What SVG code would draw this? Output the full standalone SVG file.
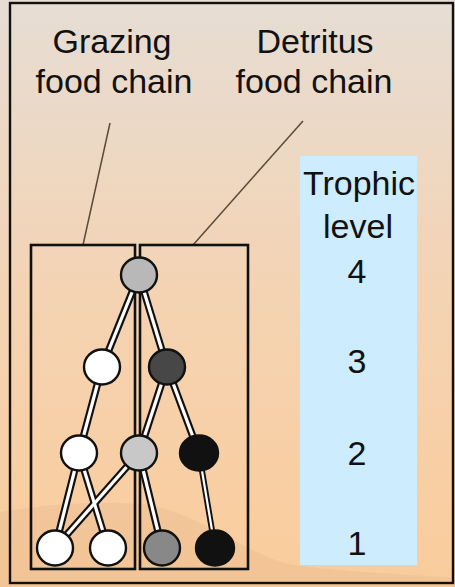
<svg xmlns="http://www.w3.org/2000/svg" width="455" height="587" viewBox="0 0 455 587">
  <defs>
    <linearGradient id="bg" x1="0" y1="0" x2="0" y2="1">
      <stop offset="0" stop-color="#e6ddd4"/>
      <stop offset="0.5" stop-color="#f4d3b3"/>
      <stop offset="1" stop-color="#facc9b"/>
    </linearGradient>
    <style>
      text { font-family: "Liberation Sans", Arial, sans-serif; font-size: 34px; fill: #111; text-anchor: middle; }
      .box { fill: none; stroke: #111; stroke-width: 2.6; }
      .lead { stroke: #5a4a38; stroke-width: 1.5; fill: none; }
      .node { stroke: #111; stroke-width: 2.4; }
      .eo { stroke: #111; stroke-width: 7.5; stroke-linecap: butt; }
      .ei { stroke: #fff; stroke-width: 3.2; stroke-linecap: butt; }
      .eo2 { stroke: #111; stroke-width: 6; stroke-linecap: butt; }
      .ei2 { stroke: #fff; stroke-width: 2.2; stroke-linecap: butt; }
    </style>
  </defs>
  <rect x="0" y="0" width="455" height="587" fill="url(#bg)"/>
  <path d="M0 512 C40 506 90 500 140 504 C200 510 250 560 300 566 C350 572 400 574 455 578 L455 587 L0 587 Z" fill="#c8946a" opacity="0.13"/>
  <rect x="10" y="3" width="443" height="580" fill="none" stroke="#111" stroke-width="2.4"/>

  <rect x="300" y="156" width="117" height="409" fill="#cdecfe"/>

  <g id="label-grazing">
    <text x="112" y="53">Grazing</text>
    <text x="114" y="93">food chain</text>
  </g>
  <g id="label-detritus">
    <text x="315" y="53">Detritus</text>
    <text x="314" y="93">food chain</text>
  </g>
  <g id="label-trophic">
    <text x="359" y="195">Trophic</text>
    <text x="358" y="238">level</text>
    <text x="357" y="283">4</text>
    <text x="357" y="373">3</text>
    <text x="357" y="465">2</text>
    <text x="357" y="555">1</text>
  </g>

  <g id="leaders">
    <line class="lead" x1="110" y1="123" x2="83" y2="245"/>
    <line class="lead" x1="303" y1="121" x2="193" y2="245"/>
  </g>

  <g id="connectors">
    <g class="eo">
      <line x1="139" y1="275" x2="102" y2="367"/>
      <line x1="139" y1="275" x2="167" y2="367"/>
      <line x1="102" y1="367" x2="79" y2="453"/>
      <line x1="167" y1="367" x2="139" y2="453"/>
      <line x1="167" y1="367" x2="199" y2="453"/>
      <line x1="79" y1="453" x2="55" y2="548"/>
      <line x1="79" y1="453" x2="108" y2="548"/>
      <line x1="139" y1="453" x2="55" y2="548"/>
      <line x1="139" y1="453" x2="162" y2="548"/>
    </g>
    <g class="ei">
      <line x1="139" y1="275" x2="102" y2="367"/>
      <line x1="139" y1="275" x2="167" y2="367"/>
      <line x1="102" y1="367" x2="79" y2="453"/>
      <line x1="167" y1="367" x2="139" y2="453"/>
      <line x1="167" y1="367" x2="199" y2="453"/>
      <line x1="79" y1="453" x2="55" y2="548"/>
      <line x1="79" y1="453" x2="108" y2="548"/>
      <line x1="139" y1="453" x2="55" y2="548"/>
      <line x1="139" y1="453" x2="162" y2="548"/>
    </g>
    <line class="eo2" x1="199" y1="453" x2="215" y2="548"/>
    <line class="ei2" x1="199" y1="453" x2="215" y2="548"/>
  </g>

  <g id="boxes">
    <rect id="grazing-box" class="box" x="31" y="245" width="104" height="324"/>
    <rect id="detritus-box" class="box" x="140" y="245" width="108" height="324"/>
  </g>

  <g id="node-t4"><ellipse class="node" cx="139" cy="275" rx="18" ry="17.5" fill="#b8b8b8"/></g>
  <g id="node-g3"><ellipse class="node" cx="102" cy="367" rx="18" ry="17.5" fill="#fff"/></g>
  <g id="node-d3"><ellipse class="node" cx="167" cy="367" rx="18" ry="17.5" fill="#474747"/></g>
  <g id="node-g2"><ellipse class="node" cx="79" cy="453" rx="18" ry="17.5" fill="#fff"/></g>
  <g id="node-m2"><ellipse class="node" cx="139" cy="453" rx="18" ry="17.5" fill="#c8c8c8"/></g>
  <g id="node-d2"><ellipse class="node" cx="199" cy="453" rx="19" ry="17.5" fill="#111"/></g>
  <g id="node-g1a"><ellipse class="node" cx="55" cy="548" rx="18" ry="17.5" fill="#fff"/></g>
  <g id="node-g1b"><ellipse class="node" cx="108" cy="548" rx="18" ry="17.5" fill="#fff"/></g>
  <g id="node-d1a"><ellipse class="node" cx="162" cy="548" rx="18" ry="17.5" fill="#888"/></g>
  <g id="node-d1b"><ellipse class="node" cx="215" cy="548" rx="19" ry="17.5" fill="#111"/></g>
</svg>
